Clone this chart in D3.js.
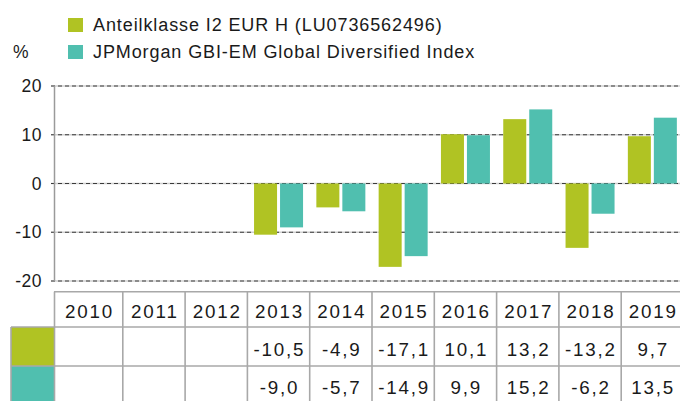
<!DOCTYPE html>
<html><head><meta charset="utf-8">
<script src="https://cdn.jsdelivr.net/npm/d3@7"></script>
<style>
html,body{margin:0;padding:0;background:#fff;}
svg{display:block;font-family:"Liberation Sans",Arial,sans-serif;}
</style></head>
<body><svg id="c" width="680" height="401"></svg>
<script>
const years = ["2010","2011","2012","2013","2014","2015","2016","2017","2018","2019"];
const fundValues  = [null,null,null,-10.5,-4.9,-17.1,10.1,13.2,-13.2,9.7];
const indexValues = [null,null,null,-9.0,-5.7,-14.9,9.9,15.2,-6.2,13.5];
const seriesNames = ["Anteilklasse I2 EUR H (LU0736562496)","JPMorgan GBI-EM Global Diversified Index"];
const seriesColors = ["#b0c323","#50bfaf"];
const yTicks = [-20,-10,0,10,20];

const svg = d3.select("#c");
const textColor = "#1a1a1a";
const fmt = v => v == null ? "" : v.toFixed(1).replace(".", ",");

const x = d3.scaleBand().domain(years).range([60.5, 683.5]);
const sub = d3.scaleBand().domain([0,1]).range([0,49]).paddingInner(0.115);
const y = d3.scaleLinear().domain([-20,20]).range([281,86]);

// legend
const lg = svg.append("g");
seriesNames.forEach((n,i)=>{
  lg.append("rect").attr("x",68).attr("y",18+i*27).attr("width",15).attr("height",14).attr("fill",seriesColors[i]);
  lg.append("text").attr("x",93).attr("y",31+i*27).attr("font-size",18).attr("fill",textColor).attr("letter-spacing",0.9).text(n);
});
svg.append("text").attr("x",13).attr("y",58).attr("font-size",17.5).attr("fill",textColor).text("%");

// grid
const grid = svg.append("g");
yTicks.forEach(t=>{
  grid.append("line").attr("x1",51).attr("x2",680).attr("y1",y(t)).attr("y2",y(t)).attr("stroke","#d0d0d0").attr("stroke-width",1.5);
  grid.append("line").attr("x1",51).attr("x2",680).attr("y1",y(t)).attr("y2",y(t)).attr("stroke","#3a3a3a").attr("stroke-width",1.2).attr("stroke-dasharray","4,3");
  grid.append("text").attr("x",42).attr("y",y(t)+6).attr("text-anchor","end").attr("font-size",17.5).attr("fill",textColor).attr("letter-spacing",0.5).text(t);
});
svg.append("line").attr("x1",54.5).attr("x2",54.5).attr("y1",y(20)).attr("y2",y(-20)).attr("stroke","#9a9a9a").attr("stroke-width",1.5);

// bars
const series = [fundValues, indexValues];
series.forEach((vals,si)=>{
  svg.append("g").selectAll("rect").data(years.map((yr,i)=>({yr,v:vals[i]})).filter(d=>d.v!=null))
    .join("rect")
    .attr("x",d=>x(d.yr)+x.bandwidth()/2-24.5+sub(si))
    .attr("width",sub.bandwidth())
    .attr("y",d=>y(Math.max(0,d.v)))
    .attr("height",d=>Math.abs(y(d.v)-y(0)))
    .attr("fill",seriesColors[si]);
});

// table
const tTop = 291.7, r1 = 327, r2 = 366, r3 = 405;
const tg = svg.append("g");
const lineC = "#a8a8a8", lw = 1.6;
tg.append("rect").attr("x",11).attr("y",r1).attr("width",43).attr("height",r2-r1).attr("fill",seriesColors[0]);
tg.append("rect").attr("x",11).attr("y",r2).attr("width",43).attr("height",r3-r2).attr("fill",seriesColors[1]);
tg.append("line").attr("x1",54).attr("x2",680).attr("y1",tTop).attr("y2",tTop).attr("stroke",lineC).attr("stroke-width",lw);
[r1,r2].forEach(r=>tg.append("line").attr("x1",11).attr("x2",680).attr("y1",r).attr("y2",r).attr("stroke",lineC).attr("stroke-width",lw));
tg.append("line").attr("x1",11).attr("x2",11).attr("y1",r1).attr("y2",r3).attr("stroke",lineC).attr("stroke-width",lw);
tg.append("line").attr("x1",54.5).attr("x2",54.5).attr("y1",tTop).attr("y2",r3).attr("stroke",lineC).attr("stroke-width",lw);
years.slice(1).forEach(yr=>{
  tg.append("line").attr("x1",x(yr)).attr("x2",x(yr)).attr("y1",tTop).attr("y2",r3).attr("stroke",lineC).attr("stroke-width",lw);
});
const ls = 1.8;
const cellCenter = yr => (yr===years[0] ? (54.5 + x(years[1]))/2 : x(yr)+x.bandwidth()/2) + ls/2;
const cell = (xx,yy,t)=>tg.append("text").attr("x",xx).attr("y",yy).attr("text-anchor","middle").attr("font-size",18.8).attr("letter-spacing",ls).attr("fill",textColor).text(t);
years.forEach((yr,i)=>{
  cell(cellCenter(yr),318,yr);
  cell(cellCenter(yr),355.5,fmt(fundValues[i]));
  cell(cellCenter(yr),393.5,fmt(indexValues[i]));
});
</script></body></html>
